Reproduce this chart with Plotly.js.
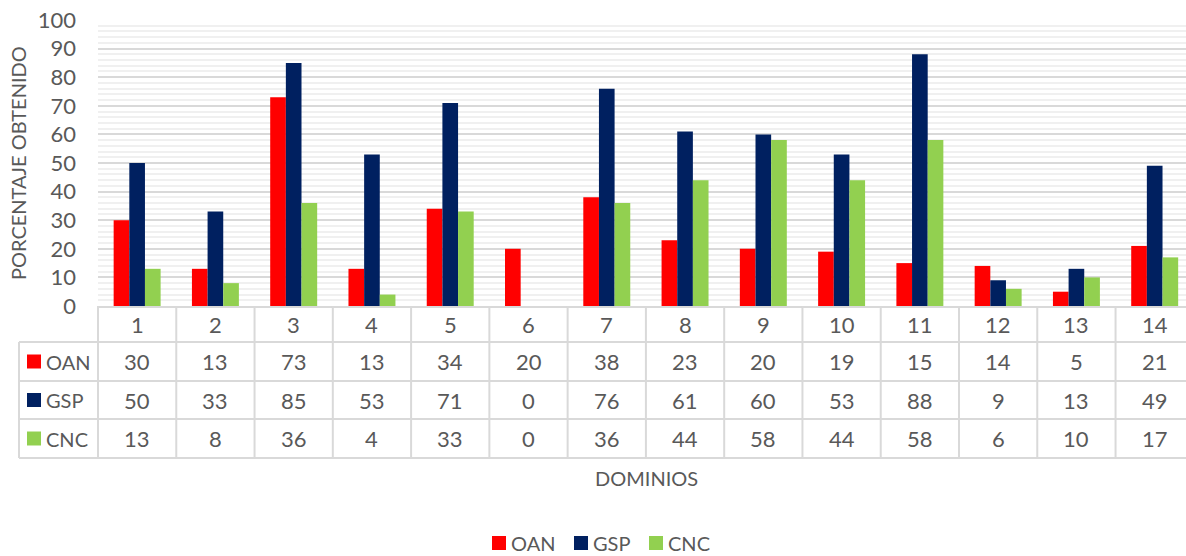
<!DOCTYPE html>
<html>
<head>
<meta charset="utf-8">
<script src="https://cdn.plot.ly/plotly-3.0.1.min.js"></script>
<style>
  html, body { margin: 0; padding: 0; background: #ffffff; }
  #chart { width: 1186px; height: 556px; }
</style>
</head>
<body>
<div id="chart"></div>
<script>
// Dominios evaluados y porcentaje obtenido por cada grupo
const dominios = ['1', '2', '3', '4', '5', '6', '7', '8', '9', '10', '11', '12', '13', '14'];
const oan = [30, 13, 73, 13, 34, 20, 38, 23, 20, 19, 15, 14, 5, 21];
const gsp = [50, 33, 85, 53, 71, 0, 76, 61, 60, 53, 88, 9, 13, 49];
const cnc = [13, 8, 36, 4, 33, 0, 36, 44, 58, 44, 58, 6, 10, 17];
const seriesNames = ['OAN', 'GSP', 'CNC'];
const seriesColors = ['#ff0000', '#002060', '#92d050'];
const seriesValues = [oan, gsp, cnc];

const W = 1186, H = 556;
const M = { l: 98, r: 0, t: 20, b: 250, autoexpand: false };
const plotW = W - M.l - M.r;
const plotH = H - M.t - M.b;
const textColor = '#595959';
const lineColor = '#d9d9d9';
const fontFam = 'Lato, "Open Sans", sans-serif';
const numSize = 22;
const labelSize = 20;

// pixel offsets (below the plot's bottom edge / from its left edge) as paper units
const py = px => -px / plotH;
const pxX = px => px / plotW;

// data-table geometry, in pixels below the x axis
const rowEdges = [0, 36, 75, 113, 152];
const rowMid = i => (rowEdges[i] + rowEdges[i + 1]) / 2;
const leftEdge = pxX(19 - M.l);

const traces = seriesNames.map((name, k) => ({
  type: 'bar',
  name: name,
  x: dominios,
  y: seriesValues[k],
  marker: { color: seriesColors[k], line: { width: 0 } },
  hoverinfo: 'x+y+name'
}));

const shapes = [];
const annotations = [];

// colour key: small square followed by the series name
function addKey(xPx, yMid, k) {
  shapes.push({
    type: 'rect', xref: 'paper', yref: 'paper',
    x0: pxX(xPx - M.l), x1: pxX(xPx + 14 - M.l),
    y0: yMid - 7 / plotH, y1: yMid + 7 / plotH,
    fillcolor: seriesColors[k], line: { width: 0 }
  });
  annotations.push({
    xref: 'paper', yref: 'paper', x: pxX(xPx + 18 - M.l), y: yMid,
    text: seriesNames[k], showarrow: false, xanchor: 'left', yanchor: 'middle',
    borderpad: 0,
    font: { family: fontFam, size: labelSize, color: textColor }
  });
}

// horizontal table rules
for (let r = 1; r < rowEdges.length; r++) {
  shapes.push({
    type: 'line', xref: 'paper', yref: 'paper',
    x0: leftEdge, x1: 1.05, y0: py(rowEdges[r]), y1: py(rowEdges[r]),
    line: { color: lineColor, width: 2 }
  });
}
// vertical table rules between categories
for (let i = 0; i < dominios.length - 1; i++) {
  shapes.push({
    type: 'line', xref: 'x', yref: 'paper',
    x0: i + 0.5, x1: i + 0.5, y0: 0, y1: py(rowEdges[4]),
    line: { color: lineColor, width: 2 }
  });
}
// left border of value columns and of series-name column
shapes.push({
  type: 'line', xref: 'paper', yref: 'paper',
  x0: 0, x1: 0, y0: 0, y1: py(rowEdges[4]),
  line: { color: lineColor, width: 2 }
});
shapes.push({
  type: 'line', xref: 'paper', yref: 'paper',
  x0: leftEdge, x1: leftEdge, y0: py(rowEdges[1]), y1: py(rowEdges[4]),
  line: { color: lineColor, width: 2 }
});

// header row: domain numbers
dominios.forEach((d, i) => {
  annotations.push({
    xref: 'x', yref: 'paper', x: i, y: py(rowMid(0)),
    text: d, showarrow: false, xanchor: 'center', yanchor: 'middle',
    font: { family: fontFam, size: numSize, color: textColor }
  });
});

// value rows with colour keys
seriesNames.forEach((name, k) => {
  const yMid = py(rowMid(k + 1));
  addKey(27, yMid, k);
  seriesValues[k].forEach((v, i) => {
    annotations.push({
      xref: 'x', yref: 'paper', x: i, y: yMid,
      text: String(v), showarrow: false, xanchor: 'center', yanchor: 'middle',
      font: { family: fontFam, size: numSize, color: textColor }
    });
  });
});

// legend row under the chart
const legendKeyX = [492, 574, 649];
seriesNames.forEach((name, k) => addKey(legendKeyX[k], py(543 - 306), k));

// axis titles
annotations.push({
  xref: 'paper', yref: 'paper', x: pxX(18 - M.l), y: 0.5,
  text: 'PORCENTAJE OBTENIDO', showarrow: false, textangle: -90,
  xanchor: 'center', yanchor: 'middle',
  font: { family: fontFam, size: labelSize, color: textColor }
});
annotations.push({
  xref: 'paper', yref: 'paper', x: pxX(646 - M.l), y: py(478 - 306),
  text: 'DOMINIOS', showarrow: false, xanchor: 'center', yanchor: 'middle',
  font: { family: fontFam, size: labelSize, color: textColor }
});

const layout = {
  width: W, height: H,
  margin: M,
  paper_bgcolor: '#ffffff',
  plot_bgcolor: '#ffffff',
  barmode: 'group',
  bargap: 0.4,
  bargroupgap: 0,
  showlegend: false,
  xaxis: {
    type: 'category',
    range: [-0.5, 13.4],
    showticklabels: false,
    showgrid: false,
    zeroline: false,
    showline: true,
    linecolor: lineColor,
    linewidth: 2,
    ticks: '',
    fixedrange: true
  },
  yaxis: {
    range: [0, 100],
    dtick: 10,
    tick0: 0,
    showgrid: true,
    gridcolor: lineColor,
    gridwidth: 2,
    minor: { dtick: 2, showgrid: true, gridcolor: '#f0f0f0', gridwidth: 2 },
    zeroline: false,
    showline: false,
    ticks: '',
    ticklabelstandoff: 21,
    tickfont: { family: fontFam, size: numSize, color: textColor },
    fixedrange: true
  },
  shapes: shapes,
  annotations: annotations
};

Plotly.newPlot('chart', traces, layout, { displayModeBar: false, staticPlot: true });
</script>
</body>
</html>
